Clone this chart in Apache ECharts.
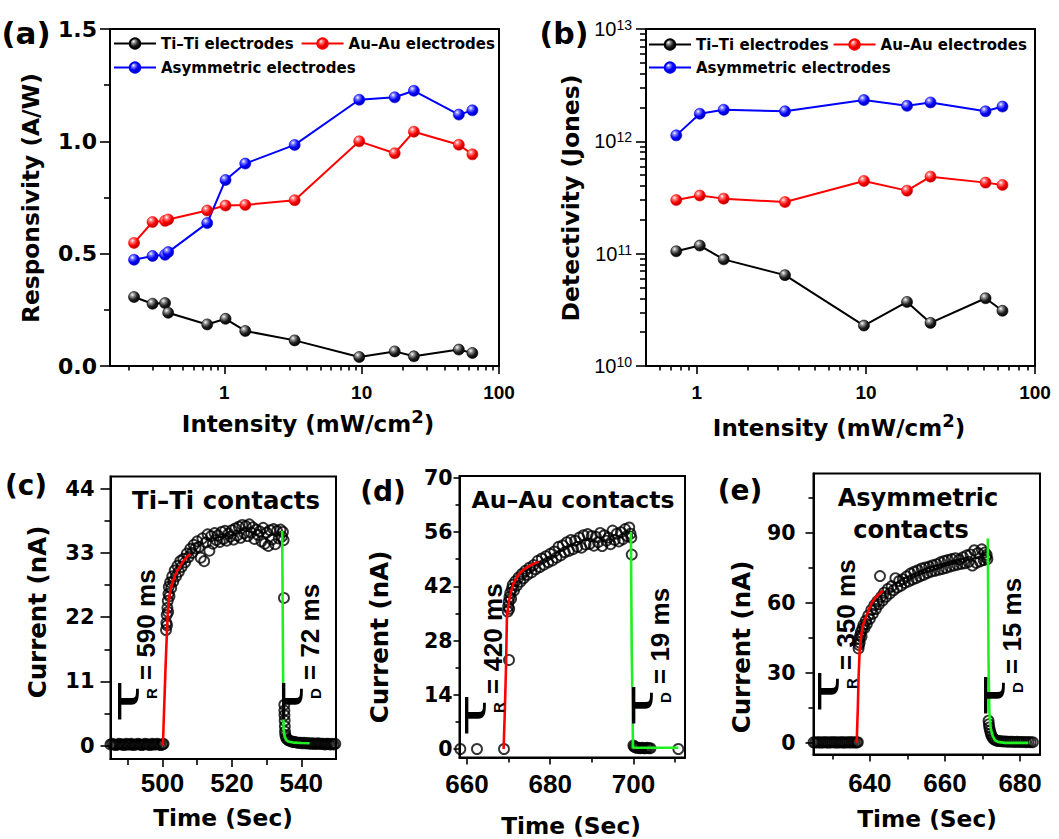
<!DOCTYPE html>
<html><head><meta charset="utf-8">
<script src="https://cdn.jsdelivr.net/npm/echarts@6/dist/echarts.min.js"></script>
<style>html,body{margin:0;padding:0;background:#fff}#c{width:1059px;height:839px}</style>
</head><body><div id="c"></div>
<script>
// ---------- panel (a) ----------
const intensityA = [0.22, 0.3, 0.37, 0.39, 0.75, 1.02, 1.42, 3.25, 9.6, 17.4, 24, 51, 64];
const respTi   = [0.307, 0.277, 0.28, 0.237, 0.185, 0.21, 0.156, 0.114, 0.04, 0.065, 0.043, 0.073, 0.058];
const respAu   = [0.548, 0.641, 0.646, 0.652, 0.692, 0.714, 0.717, 0.738, 1.0, 0.947, 1.043, 0.985, 0.942];
const respAsym = [0.473, 0.49, 0.495, 0.507, 0.636, 0.828, 0.901, 0.984, 1.185, 1.196, 1.225, 1.119, 1.138];
// ---------- panel (b) ----------
const intensityB = [0.755, 1.04, 1.44, 3.32, 9.73, 17.5, 24.1, 51, 64.2];
const detTi   = [1.05e11, 1.18e11, 8.9e10, 6.44e10, 2.29e10, 3.72e10, 2.42e10, 4.01e10, 3.1e10];
const detAu   = [3.0e11, 3.29e11, 3.09e11, 2.88e11, 4.44e11, 3.64e11, 4.85e11, 4.29e11, 4.09e11];
const detAsym = [1.13e12, 1.76e12, 1.91e12, 1.85e12, 2.33e12, 2.07e12, 2.22e12, 1.85e12, 2.04e12];
const seriesNames = ['Ti\u2013Ti electrodes', 'Au\u2013Au electrodes', 'Asymmetric electrodes'];
// tick positions
const xMinorA = [0.2,0.3,0.4,0.5,0.6,0.7,0.8,0.9,2,3,4,5,6,7,8,9,20,30,40,50,60,70,80,90];
const xMinorB = [0.6,0.7,0.8,0.9,2,3,4,5,6,7,8,9,20,30,40,50,60,70,80,90];
const yMinorB = [2e10,3e10,4e10,5e10,6e10,7e10,8e10,9e10,2e11,3e11,4e11,5e11,6e11,7e11,8e11,9e11,2e12,3e12,4e12,5e12,6e12,7e12,8e12,9e12];
const decadeTicks = [0, 1, 2];

// ---------- panel (c) Ti-Ti ----------
const cPoints = [[485,0.2],[485.5,0.3],[486,0.2],[486.5,0.1],[487,0.2],[487.5,0.3],[488,0.2],[488.5,0.2],[489,0.1],[489.5,0.3],[490,0.2],[490.5,0.2],[491,0.3],[491.5,0.1],[492,0.2],[492.5,0.2],[493,0.3],[493.5,0.2],[494,0.1],[494.5,0.2],[495,0.3],[495.5,0.2],[496,0.2],[496.5,0.1],[497,0.3],[497.5,0.2],[498,0.2],[498.5,0.3],[499,0.2],[499.5,0.1],[500,0.2],[500.3,0.3],
[501.0,19.8],[501.1,21.0],[501.2,22.4],[501.3,20.6],[501.4,23.6],[501.5,24.8],[501.6,22.9],[501.7,26.0],[501.8,27.2],[502.0,25.6],[502.2,28.0],[502.5,27.0],[502.8,29.0],[503.1,28.1],[503.5,30.0],[503.9,29.0],[504.3,30.8],[504.7,29.8],[505.1,31.6],[505.5,30.6],[506.0,32.0],[506.5,31.4],[507.0,32.9],[507.5,32.3],[508.0,33.7],[508.5,33.0],[509.0,34.4],[509.5,33.8],[510.0,35.0],[510.5,34.0],[511.0,32.2],[511.5,35.5],[512.0,31.6],[512.5,34.8],[513.0,36.2],[513.5,33.4],[514.0,35.9],[514.5,34.6],[515.0,36.4],[515.5,35.2],[516.0,36.0],[516.5,34.9],[517.0,36.6],[517.5,35.4],[518.0,36.8],[518.5,35.1],[519.0,36.3],[519.5,35.8],[520.0,36.9],[520.5,35.3],[521.0,37.2],[521.5,36.0],[522.0,37.5],[522.5,35.6],[523.0,37.8],[523.5,36.4],[524.0,37.6],[524.5,35.9],[525.0,37.9],[525.5,36.5],[526.0,37.4],[526.5,35.4],[527.0,37.0],[527.5,36.1],[528.0,36.7],[528.5,35.0],[529.0,37.3],[529.5,34.6],[530.0,36.5],[530.5,34.2],[531.0,36.9],[531.5,35.3],[532.0,37.1],[532.5,34.5],[533.0,36.8],[533.5,35.5],[534.0,37.0],[534.4,35.8],[534.7,36.6],[534.9,35.2],
[535.0,25.3],[535.1,7.0],[535.12,6.0],[535.15,5.2],[535.2,4.3],[535.25,3.3],[535.3,2.4],[535.4,1.8],[535.6,1.4],[535.9,1.1],[536.3,0.9],[536.8,0.8],[537.3,0.7],[537.8,0.6],[538.3,0.6],[538.8,0.5],[539.3,0.5],[539.8,0.5],[540.3,0.4],[540.8,0.5],[541.3,0.4],[541.8,0.4],[542.3,0.4],[542.8,0.3],[543.3,0.4],[543.8,0.3],[544.3,0.3],[544.8,0.4],[545.3,0.3],[545.8,0.3],[546.3,0.3],[546.8,0.2],[547.3,0.3],[547.8,0.3],[548.3,0.2],[548.8,0.3],[549.3,0.2],[549.8,0.3]];
const cRiseFit = [[500.1,0],[500.5,7],[500.9,14],[501.26,19.3],[501.5,22.5],[501.7,24.5],[502.2,26.3],[502.7,27.6],[503.5,29],[504.3,30],[505.1,30.8],[506,31.6],[507,32.3],[508,32.8]];
const cDecayFit = [[534.5,36.8],[534.6,27],[534.7,17],[534.8,8],[534.9,2.7],[535.2,1.6],[535.6,1.0],[536.2,0.7],[538,0.5],[540,0.45],[542.4,0.4]];

// ---------- panel (d) Au-Au ----------
const dPoints = [[658.4,0.0],[662.4,0.0],[668.9,0.0],[670.1,23.0],
[669.8,35.5],[669.9,36.8],[670.0,38.0],[670.15,36.2],[670.2,39.2],[670.4,40.3],[670.6,38.8],[670.8,41.4],[671.0,42.4],[671.3,40.9],[671.6,43.3],[672.0,42.2],[672.4,44.3],[672.8,43.2],[673.2,45.2],[673.6,44.1],[674.0,46.0],[674.5,45.0],[675.0,46.8],[675.5,45.6],[676.0,47.5],[676.5,46.4],[677.0,48.6],[677.5,47.0],[678.0,49.2],[678.5,47.6],[679.0,49.8],[679.5,48.2],[680.0,50.4],[680.5,48.7],[681.0,51.0],[681.5,49.4],[682.0,52.2],[682.5,50.0],[683.0,52.6],[683.5,50.8],[684.0,53.4],[684.5,51.2],[685.0,54.0],[685.5,51.6],[686.0,53.8],[686.5,52.2],[687.0,54.6],[687.5,52.0],[688.0,55.2],[688.5,52.8],[689.0,55.5],[689.5,53.0],[690.0,55.0],[690.5,52.5],[691.0,54.8],[691.5,53.4],[692.0,55.8],[692.5,52.4],[693.0,55.2],[693.5,53.8],[694.0,54.6],[694.5,52.9],[695.0,56.4],[695.5,54.0],[696.0,55.6],[696.5,53.6],[697.0,56.0],[697.5,54.2],[698.0,56.8],[698.5,55.0],[699.0,57.2],[699.3,55.6],[699.5,54.6],
[699.6,50.2],[700.0,0.9],[700.2,0.6],[700.5,0.4],[700.9,0.3],[701.3,0.3],[701.7,0.2],[702.1,0.3],[702.5,0.2],[702.9,0.2],[703.3,0.3],[703.7,0.2],[704.1,0.2],[710.8,0.0]];
const dRiseFit = [[668.8,0],[669.1,10],[669.4,22],[669.6,34.2],[670.0,37.5],[670.5,40.2],[671.2,42.8],[672.4,45.0],[673.6,46.3],[675.4,47.5],[677.2,48.4]];
const dDecayFit = [[699.4,56.1],[699.5,40],[699.6,25],[699.8,10],[699.9,0.4],[700.5,0.3],[705,0.3],[710.8,0.3]];

// ---------- panel (e) Asymmetric ----------
const ePoints = [[625,0.2],[625.5,0.1],[626,0.3],[626.5,0.2],[627,0.1],[627.5,0.2],[628,0.3],[628.5,0.2],[629,0.1],[629.5,0.2],[630,0.3],[630.5,0.2],[631,0.2],[631.5,0.1],[632,0.3],[632.5,0.2],[633,0.2],[633.5,0.1],[634,0.3],[634.5,0.2],[635,0.2],[635.5,0.3],[636,0.1],[636.5,0.2],[636.8,0.3],
[637.0,40.5],[637.1,42.0],[637.2,44.5],[637.3,43.0],[637.4,46.0],[637.6,47.5],[637.8,45.6],[638.0,49.0],[638.3,50.6],[638.6,49.2],[638.9,52.4],[639.2,51.0],[639.6,54.6],[640.0,53.2],[640.4,57.0],[640.8,55.4],[641.2,59.0],[641.6,57.4],[642.0,60.8],[642.4,59.4],[642.7,71.5],[643.0,62.6],[643.4,61.0],[643.8,64.4],[644.3,62.6],[644.8,66.0],[645.3,64.0],[645.8,67.2],[646.3,65.4],[646.8,70.6],[647.3,66.6],[647.8,69.4],[648.3,67.4],[648.8,70.2],[649.3,68.6],[649.8,71.4],[650.3,69.2],[650.8,72.6],[651.3,70.0],[651.8,73.4],[652.3,70.6],[652.8,74.0],[653.3,71.4],[653.8,74.8],[654.3,72.0],[654.8,75.2],[655.3,72.8],[655.8,75.6],[656.3,73.4],[656.8,76.2],[657.3,73.8],[657.8,76.6],[658.3,74.2],[658.8,77.4],[659.3,74.6],[659.8,78.0],[660.3,75.0],[660.8,78.4],[661.3,75.6],[661.8,78.8],[662.3,76.0],[662.8,79.2],[663.3,76.4],[663.8,78.6],[664.3,76.8],[664.8,79.6],[665.3,77.0],[665.8,80.4],[666.3,77.6],[666.8,80.8],[667.3,76.0],[667.8,82.6],[668.3,77.2],[668.8,81.4],[669.3,77.8],[669.8,83.0],[670.3,78.4],[670.6,81.6],[670.9,79.6],[671.1,80.6],[671.3,78.8],
[671.6,9.5],[671.7,8.0],[671.8,6.6],[672.0,5.2],[672.2,4.0],[672.4,3.0],[672.7,2.2],[673.0,1.6],[673.4,1.2],[673.9,0.9],[674.4,0.8],[675.0,0.7],[675.6,0.6],[676.2,0.6],[676.8,0.5],[677.4,0.5],[678.0,0.5],[678.6,0.4],[679.2,0.5],[679.8,0.4],[680.4,0.4],[681.0,0.4],[681.6,0.3],[682.2,0.4],[682.8,0.3],[683.4,0.3]];
const eRiseFit = [[636.5,0],[636.8,15],[637.0,28],[637.3,40],[637.7,46],[638.2,50.5],[638.7,52.8],[639.5,56.2],[640.4,59.7],[641.5,62.3],[643.5,65.3]];
const eDecayFit = [[671.4,87.6],[671.5,60],[671.6,35],[671.8,15],[671.9,11],[672.2,6],[672.7,3],[673.3,1.2],[674.1,0.4],[676,0],[682.2,0]];

// tick lists for transient panels
const cXMajor = [500,520,540], cXMinor = [490,510,530];
const cYMajor = [0,11,22,33,44], cYMinor = [5.5,16.5,27.5,38.5];
const dXMajor = [660,680,700], dXMinor = [670,690,710];
const dYMajor = [0,14,28,42,56,70], dYMinor = [7,21,35,49,63];
const eXMajor = [640,660,680], eXMinor = [630,650,670];
const eYMajor = [0,30,60,90], eYMinor = [15,45,75,105];

// ---------- helpers ----------
const BLK = '#000';
const DJ = 'DejaVu Sans', LS = 'Liberation Sans';
function sphere(light, mid, dark) {
  return {type:'radial', x:0.35, y:0.3, r:0.75, colorStops:[
    {offset:0, color:'#ffffff'},{offset:0.22, color:light},{offset:0.6, color:mid},{offset:1, color:dark}]};
}
const colorsLine = ['#000000', '#ff0000', '#0000ff'];
const spheres = [sphere('#9a9a9a','#202020','#000000'), sphere('#ff8080','#ff0000','#a00000'), sphere('#8080ff','#0000ff','#0000a0')];

function hiddenAxis(kind, grid, min, max, values, len, pos) {
  return {type:'value', gridIndex:grid, min:min, max:max, position:pos,
    axisLine:{show:false, onZero:false}, splitLine:{show:false}, axisLabel:{show:false},
    axisTick:{show:true, customValues:values, length:len, lineStyle:{color:BLK, width:1.6}},
    minorTick:{show:false}};
}
function mainValueAxis(grid, min, max, major, tickLen, labelFont, fontSize, margin, pos) {
  return {type:'value', gridIndex:grid, min:min, max:max, position:pos,
    axisLine:{show:true, onZero:false, lineStyle:{color:BLK, width:2}}, splitLine:{show:false},
    axisTick:{show:true, customValues:major, length:tickLen, lineStyle:{color:BLK, width:1.6}},
    axisLabel:{show:true, customValues:major, color:BLK, fontFamily:labelFont, fontWeight:'bold', fontSize:fontSize, margin:margin},
    minorTick:{show:false}};
}
const gridStyle = {show:true, borderColor:BLK, borderWidth:2, backgroundColor:'rgba(0,0,0,0)'};

const X_MIN_A = 0.147, X_MIN_B = 0.5;
const lg = Math.log10;

const xAxes = [
  {type:'log', gridIndex:0, min:X_MIN_A, max:100, axisLine:{onZero:false, lineStyle:{color:BLK,width:2}},
   axisTick:{show:false}, minorTick:{show:false}, splitLine:{show:false},
   axisLabel:{showMinLabel:false, color:BLK, fontFamily:LS, fontWeight:'bold', fontSize:19, margin:17}},
  hiddenAxis('x',0,lg(X_MIN_A),2,decadeTicks,8,'bottom'),
  hiddenAxis('x',0,lg(X_MIN_A),2,xMinorA.map(lg),4.5,'bottom'),
  {type:'log', gridIndex:1, min:X_MIN_B, max:100, axisLine:{onZero:false, lineStyle:{color:BLK,width:2}},
   axisTick:{show:false}, minorTick:{show:false}, splitLine:{show:false},
   axisLabel:{showMinLabel:false, color:BLK, fontFamily:LS, fontWeight:'bold', fontSize:19, margin:17}},
  hiddenAxis('x',1,lg(X_MIN_B),2,decadeTicks,8,'bottom'),
  hiddenAxis('x',1,lg(X_MIN_B),2,xMinorB.map(lg),4.5,'bottom'),
  mainValueAxis(2,485,550,cXMajor,8,LS,26,11,'bottom'),
  hiddenAxis('x',2,485,550,cXMinor,6,'bottom'),
  mainValueAxis(3,658.2,712.4,dXMajor,7,LS,26,13,'bottom'),
  hiddenAxis('x',3,658.2,712.4,dXMinor,5,'bottom'),
  mainValueAxis(4,625,685.3,eXMajor,7,LS,26,15,'bottom'),
  hiddenAxis('x',4,625,685.3,eXMinor,5,'bottom')
];
const yAxes = [
  {type:'value', gridIndex:0, min:0, max:1.5, interval:0.5,
   axisLine:{show:true,onZero:false,lineStyle:{color:BLK,width:2}}, splitLine:{show:false},
   axisTick:{show:true,length:10,lineStyle:{color:BLK,width:1.6}},
   minorTick:{show:true,splitNumber:2,length:6,lineStyle:{color:BLK,width:1.6}},
   axisLabel:{formatter:v=>v.toFixed(1), color:BLK, fontFamily:DJ, fontWeight:'bold', fontSize:22, margin:13}},
  {type:'log', gridIndex:1, min:1e10, max:1e13,
   axisLine:{show:true,onZero:false,lineStyle:{color:BLK,width:2}}, splitLine:{show:false},
   axisTick:{show:true,length:10,lineStyle:{color:BLK,width:1.6}}, minorTick:{show:false},
   axisLabel:{margin:14, formatter:v=>'{b|10}{e|'+Math.round(Math.log10(v))+'}',
     rich:{b:{fontFamily:LS,fontSize:20,fontWeight:'normal',color:BLK,lineHeight:22},
           e:{fontFamily:LS,fontSize:14,fontWeight:'normal',color:BLK,lineHeight:13,verticalAlign:'top'}}}},
  hiddenAxis('y',1,10,13,yMinorB.map(lg),6,'left'),
  mainValueAxis(2,-2.3,46.1,cYMajor,10,DJ,21,16,'left'),
  hiddenAxis('y',2,-2.3,46.1,cYMinor,6,'left'),
  mainValueAxis(3,-2.2,70.5,dYMajor,6,DJ,20.5,7,'left'),
  hiddenAxis('y',3,-2.2,70.5,dYMinor,4,'left'),
  mainValueAxis(4,-5,115.5,eYMajor,8,DJ,20.5,18,'left'),
  hiddenAxis('y',4,-5,115.5,eYMinor,5,'left')
];

function lineSeries(name, xs, ys, i, xi, yi) {
  return {name:name, type:'line', xAxisIndex:xi, yAxisIndex:yi, data:xs.map((x,k)=>[x, ys[k]]),
    symbol:'circle', symbolSize:11, showAllSymbol:true,
    lineStyle:{color:colorsLine[i], width:2}, itemStyle:{color:spheres[i], borderColor:colorsLine[i], borderWidth:0.6},
    z:3, silent:true};
}
function scatterSeries(data, xi, yi) {
  return {type:'scatter', xAxisIndex:xi, yAxisIndex:yi, data:data, symbol:'circle', symbolSize:10,
    itemStyle:{color:'rgba(0,0,0,0)', borderColor:'#000', borderWidth:1.9}, z:2, silent:true};
}
function fitSeries(data, color, xi, yi) {
  return {type:'line', xAxisIndex:xi, yAxisIndex:yi, data:data, symbol:'none', smooth:false,
    lineStyle:{color:color, width:2.6}, z:4, silent:true};
}

const series = [
  lineSeries(seriesNames[0], intensityA, respTi, 0, 0, 0),
  lineSeries(seriesNames[1], intensityA, respAu, 1, 0, 0),
  lineSeries(seriesNames[2], intensityA, respAsym, 2, 0, 0),
  lineSeries(seriesNames[0], intensityB, detTi, 0, 3, 1),
  lineSeries(seriesNames[1], intensityB, detAu, 1, 3, 1),
  lineSeries(seriesNames[2], intensityB, detAsym, 2, 3, 1),
  scatterSeries(cPoints, 6, 3), fitSeries(cRiseFit, '#ff0000', 6, 3), fitSeries(cDecayFit, '#1ff01f', 6, 3),
  scatterSeries(dPoints, 8, 5), fitSeries(dRiseFit, '#ff0000', 8, 5), fitSeries(dDecayFit, '#1ff01f', 8, 5),
  scatterSeries(ePoints, 10, 7), fitSeries(eRiseFit, '#ff0000', 10, 7), fitSeries(eDecayFit, '#1ff01f', 10, 7)
];

const legText = {color:BLK, fontFamily:DJ, fontWeight:'bold', fontSize:15};
function leg(names, left, top, gap) {
  return {data:names, left:left, top:top, orient:'horizontal', itemWidth:42, itemHeight:13, itemGap:gap,
    padding:0, textStyle:legText, selectedMode:false};
}

function T(x, y, text, size, opts) {
  opts = opts || {};
  const st = {text:text, fill:BLK, fontFamily:opts.ff || DJ, fontWeight:opts.fw || 'bold', fontSize:size,
      align:opts.align || 'center', verticalAlign:'middle'};
  if (opts.rich) st.rich = opts.rich;
  const el = {type:'text', x:x, y:y, rotation:opts.rot || 0, silent:true, z:10, style:st};
  if (opts.sx) { el.scaleX = opts.sx; el.scaleY = 1; }
  return el;
}
const R90 = Math.PI / 2;
const supRich = {t:{fontFamily:DJ,fontWeight:'bold',fontSize:23,lineHeight:34,fill:BLK},
                 s:{fontFamily:DJ,fontWeight:'bold',fontSize:18,lineHeight:15,verticalAlign:'top',fill:BLK}};
function tauLabel(bx, yb, sub, main) {
  return [
    T(bx-30, yb, '\u03c4', 38, {rot:R90, sx:1.9, ff:DJ, fw:'normal', align:'left'}),
    T(bx-5, yb-24, sub, 15, {rot:R90, ff:LS, align:'left'}),
    T(bx-10, yb-43, main, 26, {rot:R90, ff:LS, align:'left'})
  ];
}

const graphic = [
  T(26, 33, '(a)', 31), T(564, 33, '(b)', 30),
  T(26, 485, '(c)', 28), T(383, 491, '(d)', 28), T(740, 490, '(e)', 28),
  T(30, 198, 'Responsivity (A/W)', 23.3, {rot:R90}),
  T(571, 198, 'Detectivity (Jones)', 23.5, {rot:R90}),
  T(308, 424, '{t|Intensity (mW/cm}{s|2}{t|)}', 23, {rich:supRich}),
  T(839, 428, '{t|Intensity (mW/cm}{s|2}{t|)}', 23, {rich:supRich}),
  T(37, 612, 'Current (nA)', 24.5, {rot:R90}),
  T(379, 637, 'Current (nA)', 24.5, {rot:R90}),
  T(741, 647, 'Current (nA)', 24.5, {rot:R90}),
  T(223, 817, 'Time (Sec)', 23.3), T(571, 825, 'Time (Sec)', 23.3), T(927, 818, 'Time (Sec)', 23.3),
  T(226, 500, 'Ti\u2013Ti contacts', 24.4),
  T(573, 500, 'Au\u2013Au contacts', 23.5),
  T(918, 498, 'Asymmetric', 24), T(911, 530, 'contacts', 24)
].concat(tauLabel(156, 723, 'R', '= 590 ms'), tauLabel(320, 723, 'D', '= 72 ms'),
         tauLabel(503, 737, 'R', '= 420 ms'), tauLabel(670, 727, 'D', '= 19 ms'),
         tauLabel(856, 713, 'R', '= 350 ms'), tauLabel(1022, 717, 'D', '= 15 ms'));

const option = {
  animation:false, backgroundColor:'#fff',
  textStyle:{fontFamily:DJ},
  grid:[
    Object.assign({left:110, top:29, width:389, height:337}, gridStyle),
    Object.assign({left:646, top:29, width:389, height:337}, gridStyle),
    Object.assign({left:110.5, top:476.5, width:225.5, height:282.5}, gridStyle),
    Object.assign({left:459.5, top:476, width:225.5, height:281.5}, gridStyle),
    Object.assign({left:813.5, top:473.5, width:226.5, height:281}, gridStyle)
  ],
  xAxis:xAxes, yAxis:yAxes,
  legend:[
    leg([seriesNames[0], seriesNames[1]], 113, 36, 7),
    leg([seriesNames[2]], 113, 60, 7),
    leg([seriesNames[0], seriesNames[1]], 648, 37, 4),
    leg([seriesNames[2]], 648, 60, 4)
  ],
  series:series,
  graphic:graphic
};
const chart = echarts.init(document.getElementById('c'), null, {renderer:'svg', width:1059, height:839});
chart.setOption(option);
</script>
</body></html>
